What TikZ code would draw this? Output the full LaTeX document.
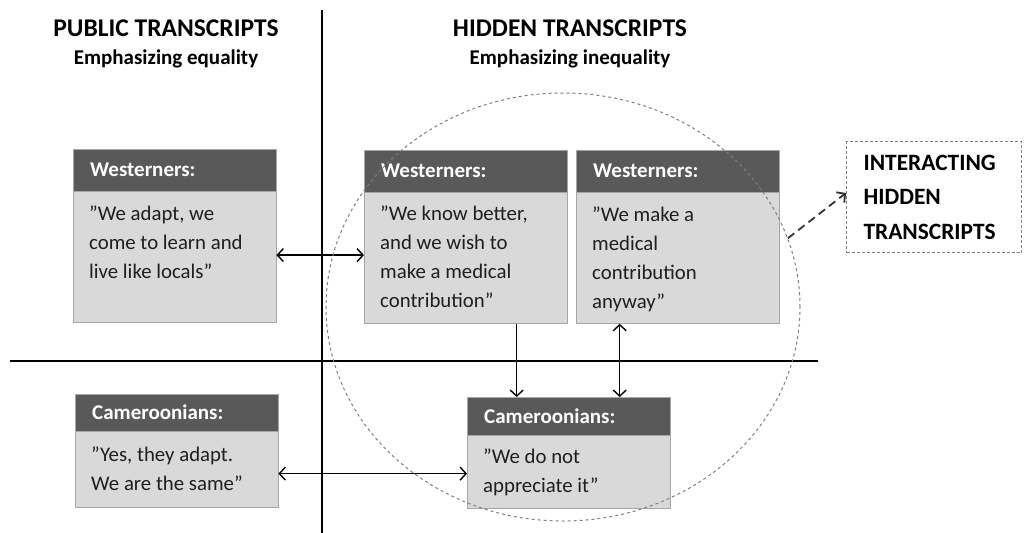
\documentclass[tikz,border=0pt]{standalone}
\usepackage{fontspec}
\setmainfont{Carlito}
\usetikzlibrary{positioning,calc,arrows.meta,shapes.geometric}
\definecolor{headgray}{HTML}{595959}
\definecolor{bodygray}{HTML}{D9D9D9}
\definecolor{boxline}{HTML}{A6A6A6}
\definecolor{dashgray}{HTML}{7F7F7F}
\definecolor{inkgray}{HTML}{1F1F1F}

\begin{document}
\begin{tikzpicture}[x=1pt,y=-1pt,
    title node/.style={font=\fontsize{25.5}{30}\selectfont\bfseries,inner sep=0pt},
    sub node/.style={font=\fontsize{21}{25}\selectfont\bfseries,inner sep=0pt},
    head node/.style={rectangle,fill=headgray,draw=boxline,text=white,anchor=north west,
                      font=\fontsize{21}{25}\selectfont\bfseries,align=left,
                      text width=169pt,inner xsep=17pt,inner ysep=0pt,minimum height=#1},
    body node/.style={rectangle,fill=bodygray,draw=boxline,anchor=north west,
                      minimum width=203pt,minimum height=#1,inner sep=0pt},
    quote node/.style={align=left,text=inkgray,font=\fontsize{20.8}{29}\selectfont,inner sep=0pt},
    link/.style={line width=1.4pt,{Straight Barb[length=6pt,width=13pt]}-{Straight Barb[length=6pt,width=13pt]}},
    down link/.style={line width=1.4pt,-{Straight Barb[length=6pt,width=13pt]}}]

  \useasboundingbox (0,0) rectangle (1026,533);

  % titles
  \node[title node] (pubt) at (166,28) {PUBLIC TRANSCRIPTS};
  \node[sub node] (pubs) at (166,59) {Emphasizing equality};
  \node[title node] (hidt) at (570,28) {HIDDEN TRANSCRIPTS};
  \node[sub node] (hids) at (570,59) {Emphasizing inequality};

  % axes
  \coordinate (vtop) at (322,10);
  \coordinate (vbot) at (322,533);
  \coordinate (hleft) at (10,361);
  \coordinate (hright) at (818,361);
  \draw[line width=1.6pt] (vtop) -- (vbot);
  \draw[line width=1.6pt] (hleft) -- (hright);

  % westerners, public
  \node[head node=42pt] (w1h) at (73,149) {Westerners:};
  \node[body node=131pt] (w1) at (w1h.south west) {};
  \node[quote node, below right=14pt and 16pt of w1.north west] (w1q)
    {”We adapt, we\\come to learn and\\live like locals”};

  % westerners, hidden
  \node[head node=42pt] (w2h) at (364,150) {Westerners:};
  \node[body node=131pt] (w2) at (w2h.south west) {};
  \node[quote node, below right=13pt and 16pt of w2.north west] (w2q)
    {”We know better,\\and we wish to\\make a medical\\contribution”};

  \node[head node=42pt] (w3h) at (576,150) {Westerners:};
  \node[body node=131pt] (w3) at (w3h.south west) {};
  \node[quote node, below right=14pt and 16pt of w3.north west] (w3q)
    {”We make a\\medical\\contribution\\anyway”};

  % cameroonians
  \node[head node=37pt] (c4h) at (75,394) {Cameroonians:};
  \node[body node=76pt] (c4) at (c4h.south west) {};
  \node[quote node, below right=15pt and 16pt of c4.north west] (c4q)
    {”Yes, they adapt.\\We are the same”};

  \node[head node=38pt] (c5h) at (467,397) {Cameroonians:};
  \node[body node=73pt] (c5) at (c5h.south west) {};
  \node[quote node, below right=13pt and 16pt of c5.north west] (c5q)
    {”We do not\\appreciate it”};

  % interacting box
  \node[draw=dashgray,dash pattern=on 3pt off 2pt,line width=1pt,anchor=north west,
        minimum width=175pt,minimum height=111pt,text width=141pt,inner xsep=17pt,
        align=left,font=\fontsize{23.4}{34.5}\selectfont\bfseries] (ihid) at (846,141)
    {INTERACTING\\HIDDEN\\TRANSCRIPTS};

  % links
  \draw[link] ([yshift=2pt]w1.east) -- ([yshift=2pt]w1.east -| w2.west);
  \draw[link] ([yshift=-4pt]c4.east) -- ([yshift=-4pt]c4.east -| c5.west);
  \draw[down link] ([xshift=51pt]w2.south) -- ([xshift=51pt]w2.south |- c5h.north);
  \draw[link] ([xshift=-58pt]w3.south) -- ([xshift=-58pt]w3.south |- c5h.north);

  % ring of hidden transcripts
  \node[ellipse,draw=dashgray,dash pattern=on 3pt off 3pt,line width=1pt,
        minimum width=474pt,minimum height=428pt,inner sep=0pt] (ring) at (563,307) {};
  \draw[down link,draw=black!80,dash pattern=on 8pt off 5pt,line width=1.8pt]
    (ring.17) -- ([yshift=4pt]ihid.west);
\end{tikzpicture}
\end{document}
